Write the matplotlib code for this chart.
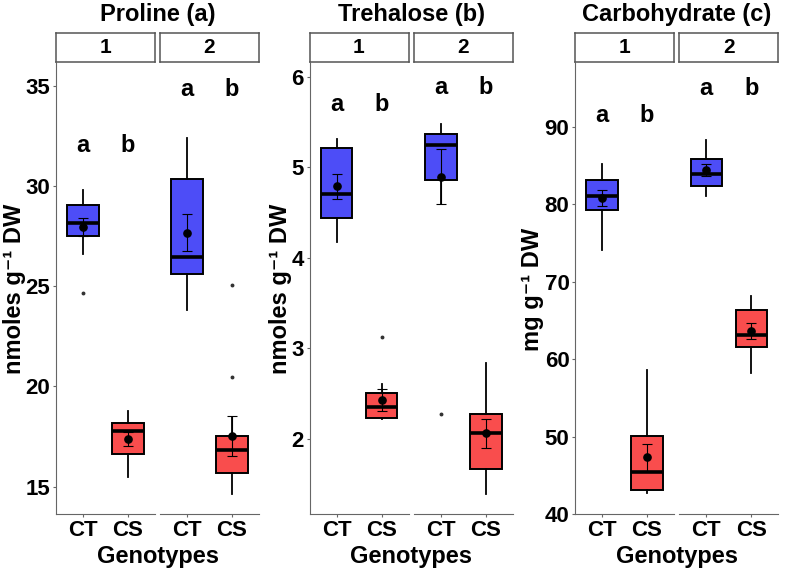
import matplotlib.pyplot as plt

plt.rcParams['font.family'] = ['Liberation Sans', 'DejaVu Sans']
plt.rcParams['font.weight'] = 'bold'

W, H = 786, 574

genotypes = ['CT', 'CS']
facets = ['1', '2']
fill_colors = ['#4D4DF7', '#F94D4D']

# Proline (a): per facet [CT, CS]
pro_lo = [[26.63, 15.5], [23.8, 14.64]]
pro_q1 = [[27.52, 16.63], [25.63, 15.68]]
pro_med = [[28.18, 17.75], [26.45, 16.83]]
pro_q3 = [[29.05, 18.15], [30.37, 17.5]]
pro_hi = [[29.8, 18.77], [32.42, 18.45]]
pro_mean = [[27.98, 17.38], [27.67, 17.52]]
pro_se = [[0.45, 0.36], [0.93, 1.0]]
pro_out = [[[24.68], []], [[], [20.48, 25.05]]]
pro_letter_y = [32.05, 34.85]

# Trehalose (b)
tre_lo = [[4.18, 2.22], [4.6, 1.39]]
tre_q1 = [[4.44, 2.23], [4.86, 1.67]]
tre_med = [[4.71, 2.35], [5.25, 2.07]]
tre_q3 = [[5.22, 2.51], [5.37, 2.27]]
tre_hi = [[5.31, 2.61], [5.48, 2.84]]
tre_mean = [[4.79, 2.43], [4.9, 2.06]]
tre_se = [[0.135, 0.12], [0.3, 0.16]]
tre_out = [[[], [3.125]], [[2.28], []]]
tre_letter_y = [5.7, 5.88]

# Carbohydrate (c)
car_lo = [[74.1, 42.7], [81.1, 58.2]]
car_q1 = [[79.27, 43.1], [82.4, 61.55]]
car_med = [[81.1, 45.4], [83.9, 63.1]]
car_q3 = [[83.2, 50.1], [85.84, 66.3]]
car_hi = [[85.15, 58.6], [88.37, 68.2]]
car_mean = [[80.86, 47.3], [84.42, 63.6]]
car_se = [[1.05, 1.7], [0.8, 1.05]]
car_out = [[[], []], [[], []]]
car_letter_y = [91.5, 95.0]

letters = ['a', 'b']

fig = plt.figure(figsize=(W / 100, H / 100), dpi=100)


def px_axes(x0, x1, y0, y1):
    return fig.add_axes([x0 / W, 1 - y1 / H, (x1 - x0) / W, (y1 - y0) / H])


PLOT_TOP, PLOT_BOT = 63, 514
STRIP_TOP = 33
AXIS_COL = '#666666'


def draw_panel(xs, title, ylabel, ylabel_x, lo, q1, med, q3, hi, mean, se, out,
               letter_y, ylim, yticks):
    for f, (x0, x1) in enumerate(xs):
        ax = px_axes(x0, x1, PLOT_TOP, PLOT_BOT)
        stats = []
        for g in range(2):
            stats.append(dict(whislo=lo[f][g], q1=q1[f][g], med=med[f][g],
                              q3=q3[f][g], whishi=hi[f][g], fliers=out[f][g]))
        bp = ax.bxp(stats, positions=[1, 2], widths=0.7, patch_artist=True,
                    showcaps=False, showfliers=True,
                    boxprops=dict(edgecolor='black', linewidth=1.4),
                    medianprops=dict(color='black', linewidth=2.6),
                    whiskerprops=dict(color='black', linewidth=1.3),
                    flierprops=dict(marker='o', markersize=1.8,
                                    markerfacecolor='#333333',
                                    markeredgecolor='#333333'))
        for patch, c in zip(bp['boxes'], fill_colors):
            patch.set_facecolor(c)
        ax.errorbar([1, 2], mean[f], yerr=se[f], fmt='o', color='black',
                    ms=5.2, capsize=3.6, elinewidth=0.8, capthick=0.8, zorder=5)
        for g in range(2):
            ax.text(g + 1, letter_y[f], letters[g], ha='center', va='center',
                    fontsize=17, fontweight='bold')
        ax.set_xlim(0.4, 2.6)
        ax.set_ylim(*ylim)
        ax.set_xticks([1, 2])
        ax.set_xticklabels(genotypes, fontsize=16, fontweight='bold')
        for s in ['top', 'right']:
            ax.spines[s].set_visible(False)
        ax.spines['bottom'].set_color(AXIS_COL)
        ax.spines['left'].set_color(AXIS_COL)
        ax.tick_params(axis='both', colors=AXIS_COL, labelcolor='black',
                       length=2.5, width=0.8, pad=1.5)
        if f == 0:
            ax.set_yticks(yticks)
            ax.set_yticklabels([str(t) for t in yticks], fontsize=16,
                               fontweight='bold')
        else:
            ax.spines['left'].set_visible(False)
            ax.set_yticks([])

        # facet strip
        sx = px_axes(x0, x1, STRIP_TOP, PLOT_TOP - 1)
        sx.set_xticks([])
        sx.set_yticks([])
        sx.set_facecolor('white')
        for s in sx.spines.values():
            s.set_color('#555555')
            s.set_linewidth(1.1)
        sx.text(0.5, 0.5, facets[f], ha='center', va='center',
                transform=sx.transAxes, fontsize=15, fontweight='bold')

    cx = (xs[0][0] + xs[1][1]) / 2
    fig.text(cx / W, 1 - 15 / H, title, ha='center', va='center',
             fontsize=17, fontweight='bold')
    fig.text(cx / W, 1 - 556 / H, 'Genotypes', ha='center', va='center',
             fontsize=17, fontweight='bold')
    fig.text(ylabel_x / W, 1 - 289 / H, ylabel, ha='center', va='center',
             rotation=90, fontsize=17, fontweight='bold')


draw_panel([(56, 155), (160, 259)], 'Proline (a)', 'nmoles g⁻¹ DW', 15,
           pro_lo, pro_q1, pro_med, pro_q3, pro_hi, pro_mean, pro_se, pro_out,
           pro_letter_y, (13.63, 36.15), [15, 20, 25, 30, 35])
draw_panel([(309.5, 408.5), (414, 513)], 'Trehalose (b)', 'nmoles g⁻¹ DW', 281,
           tre_lo, tre_q1, tre_med, tre_q3, tre_hi, tre_mean, tre_se, tre_out,
           tre_letter_y, (1.17, 6.155), [2, 3, 4, 5, 6])
draw_panel([(575, 674), (679.3, 778.3)], 'Carbohydrate (c)', 'mg g⁻¹ DW', 533,
           car_lo, car_q1, car_med, car_q3, car_hi, car_mean, car_se, car_out,
           car_letter_y, (40, 98.26), [40, 50, 60, 70, 80, 90])

fig.savefig('out.png', dpi=100)
